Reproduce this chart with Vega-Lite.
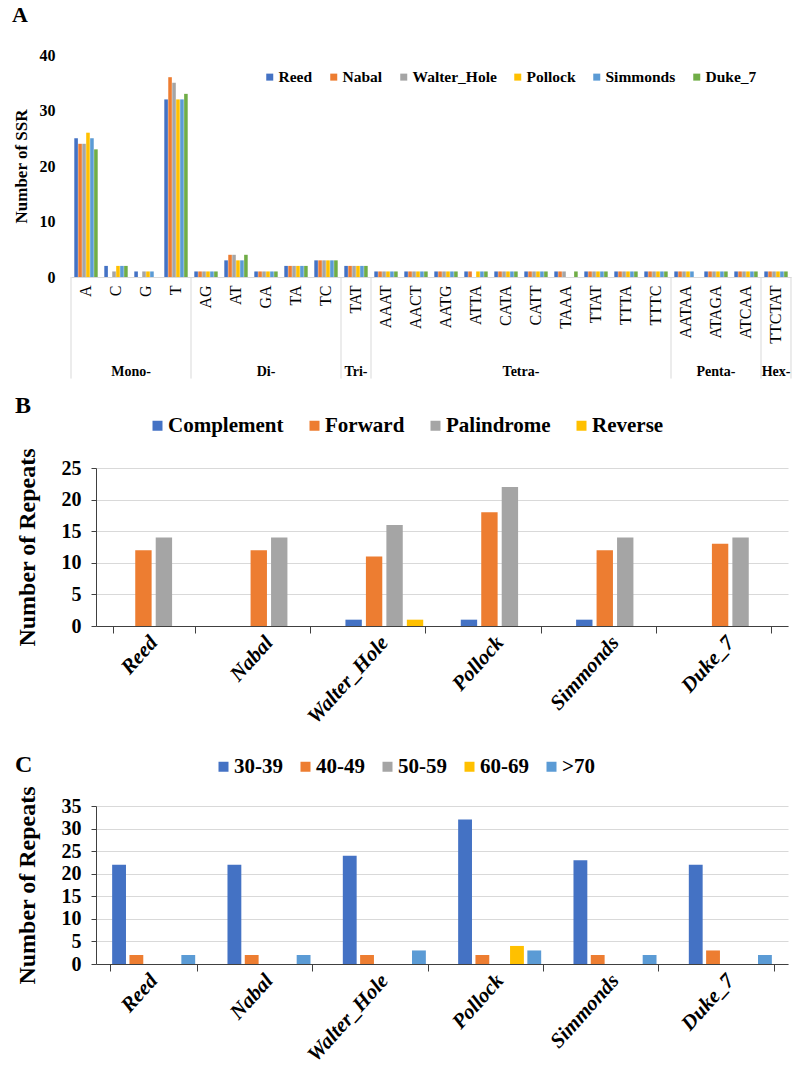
{
  "$schema": "https://vega.github.io/schema/vega-lite/v6.json",
  "background": "white",
  "padding": {"left": 12, "top": 4, "right": 10, "bottom": 0},
  "spacing": 14,
  "resolve": {"scale": {"color": "independent", "xOffset": "independent"}, "legend": {"color": "independent"}},
  "config": {
    "font": "Liberation Serif",
    "view": {"stroke": null},
    "axis": {"labelFont": "Liberation Serif", "titleFont": "Liberation Serif", "labelColor": "black", "titleColor": "black", "labelOverlap": false},
    "legend": {"labelFont": "Liberation Serif", "titleFont": "Liberation Serif", "labelColor": "black", "padding": 0},
    "title": {"font": "Liberation Serif", "fontWeight": "bold", "color": "black"}
  },
  "datasets": {
    "ssr": [
      {"motif": "A", "genome": "Reed", "count": 25}, {"motif": "A", "genome": "Nabal", "count": 24}, {"motif": "A", "genome": "Walter_Hole", "count": 24}, {"motif": "A", "genome": "Pollock", "count": 26}, {"motif": "A", "genome": "Simmonds", "count": 25}, {"motif": "A", "genome": "Duke_7", "count": 23},
      {"motif": "C", "genome": "Reed", "count": 2}, {"motif": "C", "genome": "Nabal", "count": 0}, {"motif": "C", "genome": "Walter_Hole", "count": 1}, {"motif": "C", "genome": "Pollock", "count": 2}, {"motif": "C", "genome": "Simmonds", "count": 2}, {"motif": "C", "genome": "Duke_7", "count": 2},
      {"motif": "G", "genome": "Reed", "count": 1}, {"motif": "G", "genome": "Nabal", "count": 0}, {"motif": "G", "genome": "Walter_Hole", "count": 1}, {"motif": "G", "genome": "Pollock", "count": 1}, {"motif": "G", "genome": "Simmonds", "count": 1}, {"motif": "G", "genome": "Duke_7", "count": 0},
      {"motif": "T", "genome": "Reed", "count": 32}, {"motif": "T", "genome": "Nabal", "count": 36}, {"motif": "T", "genome": "Walter_Hole", "count": 35}, {"motif": "T", "genome": "Pollock", "count": 32}, {"motif": "T", "genome": "Simmonds", "count": 32}, {"motif": "T", "genome": "Duke_7", "count": 33},
      {"motif": "AG", "genome": "Reed", "count": 1}, {"motif": "AG", "genome": "Nabal", "count": 1}, {"motif": "AG", "genome": "Walter_Hole", "count": 1}, {"motif": "AG", "genome": "Pollock", "count": 1}, {"motif": "AG", "genome": "Simmonds", "count": 1}, {"motif": "AG", "genome": "Duke_7", "count": 1},
      {"motif": "AT", "genome": "Reed", "count": 3}, {"motif": "AT", "genome": "Nabal", "count": 4}, {"motif": "AT", "genome": "Walter_Hole", "count": 4}, {"motif": "AT", "genome": "Pollock", "count": 3}, {"motif": "AT", "genome": "Simmonds", "count": 3}, {"motif": "AT", "genome": "Duke_7", "count": 4},
      {"motif": "GA", "genome": "Reed", "count": 1}, {"motif": "GA", "genome": "Nabal", "count": 1}, {"motif": "GA", "genome": "Walter_Hole", "count": 1}, {"motif": "GA", "genome": "Pollock", "count": 1}, {"motif": "GA", "genome": "Simmonds", "count": 1}, {"motif": "GA", "genome": "Duke_7", "count": 1},
      {"motif": "TA", "genome": "Reed", "count": 2}, {"motif": "TA", "genome": "Nabal", "count": 2}, {"motif": "TA", "genome": "Walter_Hole", "count": 2}, {"motif": "TA", "genome": "Pollock", "count": 2}, {"motif": "TA", "genome": "Simmonds", "count": 2}, {"motif": "TA", "genome": "Duke_7", "count": 2},
      {"motif": "TC", "genome": "Reed", "count": 3}, {"motif": "TC", "genome": "Nabal", "count": 3}, {"motif": "TC", "genome": "Walter_Hole", "count": 3}, {"motif": "TC", "genome": "Pollock", "count": 3}, {"motif": "TC", "genome": "Simmonds", "count": 3}, {"motif": "TC", "genome": "Duke_7", "count": 3},
      {"motif": "TAT", "genome": "Reed", "count": 2}, {"motif": "TAT", "genome": "Nabal", "count": 2}, {"motif": "TAT", "genome": "Walter_Hole", "count": 2}, {"motif": "TAT", "genome": "Pollock", "count": 2}, {"motif": "TAT", "genome": "Simmonds", "count": 2}, {"motif": "TAT", "genome": "Duke_7", "count": 2},
      {"motif": "AAAT", "genome": "Reed", "count": 1}, {"motif": "AAAT", "genome": "Nabal", "count": 1}, {"motif": "AAAT", "genome": "Walter_Hole", "count": 1}, {"motif": "AAAT", "genome": "Pollock", "count": 1}, {"motif": "AAAT", "genome": "Simmonds", "count": 1}, {"motif": "AAAT", "genome": "Duke_7", "count": 1},
      {"motif": "AACT", "genome": "Reed", "count": 1}, {"motif": "AACT", "genome": "Nabal", "count": 1}, {"motif": "AACT", "genome": "Walter_Hole", "count": 1}, {"motif": "AACT", "genome": "Pollock", "count": 1}, {"motif": "AACT", "genome": "Simmonds", "count": 1}, {"motif": "AACT", "genome": "Duke_7", "count": 1},
      {"motif": "AATG", "genome": "Reed", "count": 1}, {"motif": "AATG", "genome": "Nabal", "count": 1}, {"motif": "AATG", "genome": "Walter_Hole", "count": 1}, {"motif": "AATG", "genome": "Pollock", "count": 1}, {"motif": "AATG", "genome": "Simmonds", "count": 1}, {"motif": "AATG", "genome": "Duke_7", "count": 1},
      {"motif": "ATTA", "genome": "Reed", "count": 1}, {"motif": "ATTA", "genome": "Nabal", "count": 1}, {"motif": "ATTA", "genome": "Walter_Hole", "count": 0}, {"motif": "ATTA", "genome": "Pollock", "count": 1}, {"motif": "ATTA", "genome": "Simmonds", "count": 1}, {"motif": "ATTA", "genome": "Duke_7", "count": 1},
      {"motif": "CATA", "genome": "Reed", "count": 1}, {"motif": "CATA", "genome": "Nabal", "count": 1}, {"motif": "CATA", "genome": "Walter_Hole", "count": 1}, {"motif": "CATA", "genome": "Pollock", "count": 1}, {"motif": "CATA", "genome": "Simmonds", "count": 1}, {"motif": "CATA", "genome": "Duke_7", "count": 1},
      {"motif": "CATT", "genome": "Reed", "count": 1}, {"motif": "CATT", "genome": "Nabal", "count": 1}, {"motif": "CATT", "genome": "Walter_Hole", "count": 1}, {"motif": "CATT", "genome": "Pollock", "count": 1}, {"motif": "CATT", "genome": "Simmonds", "count": 1}, {"motif": "CATT", "genome": "Duke_7", "count": 1},
      {"motif": "TAAA", "genome": "Reed", "count": 1}, {"motif": "TAAA", "genome": "Nabal", "count": 1}, {"motif": "TAAA", "genome": "Walter_Hole", "count": 1}, {"motif": "TAAA", "genome": "Pollock", "count": 0}, {"motif": "TAAA", "genome": "Simmonds", "count": 0}, {"motif": "TAAA", "genome": "Duke_7", "count": 1},
      {"motif": "TTAT", "genome": "Reed", "count": 1}, {"motif": "TTAT", "genome": "Nabal", "count": 1}, {"motif": "TTAT", "genome": "Walter_Hole", "count": 1}, {"motif": "TTAT", "genome": "Pollock", "count": 1}, {"motif": "TTAT", "genome": "Simmonds", "count": 1}, {"motif": "TTAT", "genome": "Duke_7", "count": 1},
      {"motif": "TTTA", "genome": "Reed", "count": 1}, {"motif": "TTTA", "genome": "Nabal", "count": 1}, {"motif": "TTTA", "genome": "Walter_Hole", "count": 1}, {"motif": "TTTA", "genome": "Pollock", "count": 1}, {"motif": "TTTA", "genome": "Simmonds", "count": 1}, {"motif": "TTTA", "genome": "Duke_7", "count": 1},
      {"motif": "TTTC", "genome": "Reed", "count": 1}, {"motif": "TTTC", "genome": "Nabal", "count": 1}, {"motif": "TTTC", "genome": "Walter_Hole", "count": 1}, {"motif": "TTTC", "genome": "Pollock", "count": 1}, {"motif": "TTTC", "genome": "Simmonds", "count": 1}, {"motif": "TTTC", "genome": "Duke_7", "count": 1},
      {"motif": "AATAA", "genome": "Reed", "count": 1}, {"motif": "AATAA", "genome": "Nabal", "count": 1}, {"motif": "AATAA", "genome": "Walter_Hole", "count": 1}, {"motif": "AATAA", "genome": "Pollock", "count": 1}, {"motif": "AATAA", "genome": "Simmonds", "count": 1}, {"motif": "AATAA", "genome": "Duke_7", "count": 0},
      {"motif": "ATAGA", "genome": "Reed", "count": 1}, {"motif": "ATAGA", "genome": "Nabal", "count": 1}, {"motif": "ATAGA", "genome": "Walter_Hole", "count": 1}, {"motif": "ATAGA", "genome": "Pollock", "count": 1}, {"motif": "ATAGA", "genome": "Simmonds", "count": 1}, {"motif": "ATAGA", "genome": "Duke_7", "count": 1},
      {"motif": "ATCAA", "genome": "Reed", "count": 1}, {"motif": "ATCAA", "genome": "Nabal", "count": 1}, {"motif": "ATCAA", "genome": "Walter_Hole", "count": 1}, {"motif": "ATCAA", "genome": "Pollock", "count": 1}, {"motif": "ATCAA", "genome": "Simmonds", "count": 1}, {"motif": "ATCAA", "genome": "Duke_7", "count": 1},
      {"motif": "TTCTAT", "genome": "Reed", "count": 1}, {"motif": "TTCTAT", "genome": "Nabal", "count": 1}, {"motif": "TTCTAT", "genome": "Walter_Hole", "count": 1}, {"motif": "TTCTAT", "genome": "Pollock", "count": 1}, {"motif": "TTCTAT", "genome": "Simmonds", "count": 1}, {"motif": "TTCTAT", "genome": "Duke_7", "count": 1}
    ],
    "groupStarts": [
      {"motif": "A"}, {"motif": "AG"}, {"motif": "TAT"}, {"motif": "AAAT"}, {"motif": "AATAA"}, {"motif": "TTCTAT"}
    ],
    "groupEnd": [
      {"motif": "TTCTAT"}
    ],
    "groupMid": [
      {"motif": "GA", "group": "Di-"}, {"motif": "TAT", "group": "Tri-"}, {"motif": "ATAGA", "group": "Penta-"}, {"motif": "TTCTAT", "group": "Hex-"}
    ],
    "groupEdge": [
      {"motif": "C", "group": "Mono-"}, {"motif": "CATA", "group": "Tetra-"}
    ],
    "rep": [
      {"genome": "Reed", "type": "Complement", "n": 0}, {"genome": "Reed", "type": "Forward", "n": 12}, {"genome": "Reed", "type": "Palindrome", "n": 14}, {"genome": "Reed", "type": "Reverse", "n": 0},
      {"genome": "Nabal", "type": "Complement", "n": 0}, {"genome": "Nabal", "type": "Forward", "n": 12}, {"genome": "Nabal", "type": "Palindrome", "n": 14}, {"genome": "Nabal", "type": "Reverse", "n": 0},
      {"genome": "Walter_Hole", "type": "Complement", "n": 1}, {"genome": "Walter_Hole", "type": "Forward", "n": 11}, {"genome": "Walter_Hole", "type": "Palindrome", "n": 16}, {"genome": "Walter_Hole", "type": "Reverse", "n": 1},
      {"genome": "Pollock", "type": "Complement", "n": 1}, {"genome": "Pollock", "type": "Forward", "n": 18}, {"genome": "Pollock", "type": "Palindrome", "n": 22}, {"genome": "Pollock", "type": "Reverse", "n": 0},
      {"genome": "Simmonds", "type": "Complement", "n": 1}, {"genome": "Simmonds", "type": "Forward", "n": 12}, {"genome": "Simmonds", "type": "Palindrome", "n": 14}, {"genome": "Simmonds", "type": "Reverse", "n": 0},
      {"genome": "Duke_7", "type": "Complement", "n": 0}, {"genome": "Duke_7", "type": "Forward", "n": 13}, {"genome": "Duke_7", "type": "Palindrome", "n": 14}, {"genome": "Duke_7", "type": "Reverse", "n": 0}
    ],
    "len": [
      {"genome": "Reed", "range": "30-39", "n": 22}, {"genome": "Reed", "range": "40-49", "n": 2}, {"genome": "Reed", "range": "50-59", "n": 0}, {"genome": "Reed", "range": "60-69", "n": 0}, {"genome": "Reed", "range": ">70", "n": 2},
      {"genome": "Nabal", "range": "30-39", "n": 22}, {"genome": "Nabal", "range": "40-49", "n": 2}, {"genome": "Nabal", "range": "50-59", "n": 0}, {"genome": "Nabal", "range": "60-69", "n": 0}, {"genome": "Nabal", "range": ">70", "n": 2},
      {"genome": "Walter_Hole", "range": "30-39", "n": 24}, {"genome": "Walter_Hole", "range": "40-49", "n": 2}, {"genome": "Walter_Hole", "range": "50-59", "n": 0}, {"genome": "Walter_Hole", "range": "60-69", "n": 0}, {"genome": "Walter_Hole", "range": ">70", "n": 3},
      {"genome": "Pollock", "range": "30-39", "n": 32}, {"genome": "Pollock", "range": "40-49", "n": 2}, {"genome": "Pollock", "range": "50-59", "n": 0}, {"genome": "Pollock", "range": "60-69", "n": 4}, {"genome": "Pollock", "range": ">70", "n": 3},
      {"genome": "Simmonds", "range": "30-39", "n": 23}, {"genome": "Simmonds", "range": "40-49", "n": 2}, {"genome": "Simmonds", "range": "50-59", "n": 0}, {"genome": "Simmonds", "range": "60-69", "n": 0}, {"genome": "Simmonds", "range": ">70", "n": 2},
      {"genome": "Duke_7", "range": "30-39", "n": 22}, {"genome": "Duke_7", "range": "40-49", "n": 3}, {"genome": "Duke_7", "range": "50-59", "n": 0}, {"genome": "Duke_7", "range": "60-69", "n": 0}, {"genome": "Duke_7", "range": ">70", "n": 2}
    ]
  },
  "vconcat": [
    {
      "width": 720,
      "height": 222,
      "title": {"text": "A", "anchor": "start", "frame": "bounds", "fontSize": 22, "offset": 20},
      "layer": [
        {
          "data": {"name": "ssr"},
          "mark": {"type": "bar"},
          "encoding": {
            "x": {
              "field": "motif", "type": "nominal",
              "scale": {"domain": ["A", "C", "G", "T", "AG", "AT", "GA", "TA", "TC", "TAT", "AAAT", "AACT", "AATG", "ATTA", "CATA", "CATT", "TAAA", "TTAT", "TTTA", "TTTC", "AATAA", "ATAGA", "ATCAA", "TTCTAT"], "paddingInner": 0.22, "paddingOuter": 0.11},
              "axis": {"title": null, "labelAngle": -90, "labelFontSize": 16, "labelFontWeight": "normal", "labelPadding": 8, "ticks": false, "domainColor": "#D9D9D9", "grid": false, "minExtent": 101}
            },
            "xOffset": {"field": "genome", "type": "nominal", "scale": {"domain": ["Reed", "Nabal", "Walter_Hole", "Pollock", "Simmonds", "Duke_7"], "paddingInner": 0.1}},
            "y": {
              "field": "count", "type": "quantitative",
              "scale": {"domain": [0, 40]},
              "axis": {"title": "Number of SSR", "titleFontSize": 17, "titleFontWeight": "bold", "labelFontSize": 16, "labelFontWeight": "bold", "domain": false, "ticks": false, "grid": false, "labelPadding": 16, "titlePadding": 9, "values": [0, 5, 10, 15, 20, 25, 30, 35, 40]}
            },
            "color": {
              "field": "genome", "type": "nominal",
              "scale": {"domain": ["Reed", "Nabal", "Walter_Hole", "Pollock", "Simmonds", "Duke_7"], "range": ["#4472C4", "#ED7D31", "#A5A5A5", "#FFC000", "#5B9BD5", "#70AD47"]},
              "legend": {"orient": "none", "legendX": 191, "legendY": 14, "direction": "horizontal", "title": null, "symbolType": "square", "symbolSize": 49, "symbolStrokeWidth": 0, "labelFontSize": 15.5, "labelFontWeight": "bold", "columnPadding": 13, "labelOffset": 1}
            }
          }
        },
        {
          "data": {"name": "groupStarts"},
          "mark": {"type": "rule", "color": "#D9D9D9", "strokeWidth": 1},
          "encoding": {
            "x": {"field": "motif", "type": "nominal", "bandPosition": -0.141},
            "y": {"datum": 0},
            "y2": {"datum": -18.3}
          }
        },
        {
          "data": {"name": "groupEnd"},
          "mark": {"type": "rule", "color": "#D9D9D9", "strokeWidth": 1},
          "encoding": {
            "x": {"field": "motif", "type": "nominal", "bandPosition": 1.141},
            "y": {"datum": 0},
            "y2": {"datum": -18.3}
          }
        },
        {
          "data": {"name": "groupMid"},
          "mark": {"type": "text", "fontSize": 14, "fontWeight": "bold", "baseline": "middle", "color": "black"},
          "encoding": {
            "x": {"field": "motif", "type": "nominal", "bandPosition": 0.5},
            "y": {"datum": -17.1},
            "text": {"field": "group"}
          }
        },
        {
          "data": {"name": "groupEdge"},
          "mark": {"type": "text", "fontSize": 14, "fontWeight": "bold", "baseline": "middle", "color": "black"},
          "encoding": {
            "x": {"field": "motif", "type": "nominal", "bandPosition": 1.141},
            "y": {"datum": -17.1},
            "text": {"field": "group"}
          }
        }
      ]
    },
    {
      "width": 717,
      "height": 158,
      "title": {"text": "B", "anchor": "start", "frame": "bounds", "fontSize": 24, "offset": -3},
      "data": {"name": "rep"},
      "mark": {"type": "bar"},
      "encoding": {
        "x": {
          "field": "genome", "type": "nominal",
          "scale": {"domain": ["Reed", "Nabal", "Walter_Hole", "Pollock", "Simmonds", "Duke_7"], "range": [25, 717], "paddingInner": 0.29, "paddingOuter": 0.145},
          "axis": {"title": null, "labelAngle": -48, "labelFontSize": 21, "labelFontWeight": "bold", "labelFontStyle": "italic", "tickBand": "extent", "tickSize": 7, "domainColor": "#404040", "tickColor": "#404040", "labelPadding": 6, "grid": false}
        },
        "xOffset": {"field": "type", "type": "nominal", "scale": {"domain": ["Complement", "Forward", "Palindrome", "Reverse"], "paddingInner": 0.2, "paddingOuter": 0.1}},
        "y": {
          "field": "n", "type": "quantitative",
          "scale": {"domain": [0, 25]},
          "axis": {"title": "Number of Repeats", "titleFontSize": 24, "titleFontWeight": "bold", "labelFontSize": 20, "labelFontWeight": "bold", "values": [0, 5, 10, 15, 20, 25], "grid": true, "gridColor": "#D9D9D9", "domainColor": "#404040", "tickColor": "#404040", "tickSize": 5, "labelPadding": 10, "titlePadding": 22, "offset": -25}
        },
        "color": {
          "field": "type", "type": "nominal",
          "scale": {"domain": ["Complement", "Forward", "Palindrome", "Reverse"], "range": ["#4472C4", "#ED7D31", "#A5A5A5", "#FFC000"]},
          "legend": {"orient": "none", "legendX": 76, "legendY": -53, "direction": "horizontal", "title": null, "symbolType": "square", "symbolSize": 100, "symbolStrokeWidth": 0, "labelFontSize": 21, "labelFontWeight": "bold", "columnPadding": 20, "labelOffset": 0}
        }
      }
    },
    {
      "width": 717,
      "height": 158,
      "title": {"text": "C", "anchor": "start", "frame": "bounds", "fontSize": 24, "offset": -36},
      "data": {"name": "len"},
      "mark": {"type": "bar"},
      "encoding": {
        "x": {
          "field": "genome", "type": "nominal",
          "scale": {"domain": ["Reed", "Nabal", "Walter_Hole", "Pollock", "Simmonds", "Duke_7"], "range": [25, 717], "paddingInner": 0.25, "paddingOuter": 0.125},
          "axis": {"title": null, "labelAngle": -48, "labelFontSize": 21, "labelFontWeight": "bold", "labelFontStyle": "italic", "tickBand": "extent", "tickSize": 7, "domainColor": "#404040", "tickColor": "#404040", "labelPadding": 6, "grid": false}
        },
        "xOffset": {"field": "range", "type": "nominal", "scale": {"domain": ["30-39", "40-49", "50-59", "60-69", ">70"], "paddingInner": 0.2, "paddingOuter": 0.1}},
        "y": {
          "field": "n", "type": "quantitative",
          "scale": {"domain": [0, 35]},
          "axis": {"title": "Number of Repeats", "titleFontSize": 24, "titleFontWeight": "bold", "labelFontSize": 20, "labelFontWeight": "bold", "values": [0, 5, 10, 15, 20, 25, 30, 35], "grid": true, "gridColor": "#D9D9D9", "domainColor": "#404040", "tickColor": "#404040", "tickSize": 5, "labelPadding": 10, "titlePadding": 22, "offset": -25}
        },
        "color": {
          "field": "range", "type": "nominal",
          "scale": {"domain": ["30-39", "40-49", "50-59", "60-69", ">70"], "range": ["#4472C4", "#ED7D31", "#A5A5A5", "#FFC000", "#5B9BD5"]},
          "legend": {"orient": "none", "legendX": 127, "legendY": -65, "padding": 15, "direction": "horizontal", "title": null, "symbolType": "square", "symbolSize": 100, "symbolStrokeWidth": 0, "labelFontSize": 21, "labelFontWeight": "bold", "columnPadding": 12, "labelOffset": 0}
        }
      }
    }
  ]
}
